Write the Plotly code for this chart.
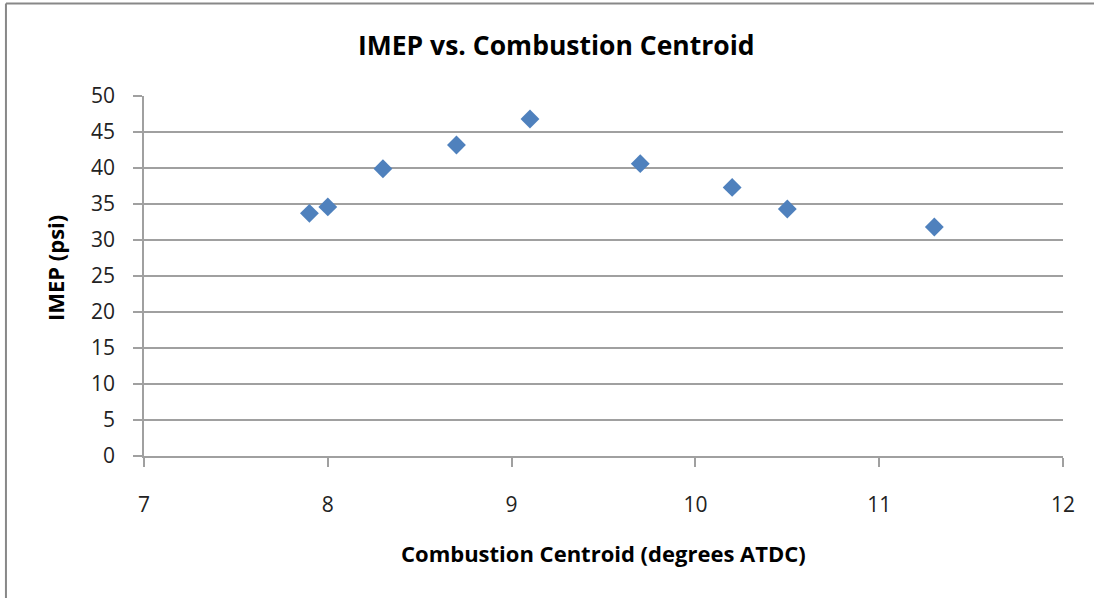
import plotly.graph_objects as go

centroid = [7.9, 8.0, 8.3, 8.7, 9.1, 9.7, 10.2, 10.5, 11.3]
imep = [33.7, 34.6, 39.9, 43.2, 46.8, 40.6, 37.3, 34.3, 31.8]
x_ticks = [7, 8, 9, 10, 11, 12]
y_ticks = [0, 5, 10, 15, 20, 25, 30, 35, 40, 45, 50]

W, H = 1094, 598
L, R, T, B = 144, 31.3, 96, 142.3
PW, PH = W - L - R, H - T - B

def px(x):
    return (x - L) / PW

def py(y):
    return (H - B - y) / PH

FONT = "Open Sans"
GRID = "#a0a0a0"

fig = go.Figure(go.Scatter(
    x=centroid, y=imep, mode="markers",
    marker=dict(symbol="diamond", size=14.5, color="#4f81bd", line=dict(width=0)),
    showlegend=False,
))

fig.update_layout(
    width=W, height=H,
    margin=dict(l=L, r=R, t=T, b=B),
    paper_bgcolor="white", plot_bgcolor="white",
    font=dict(family=FONT, color="#222222", size=21),
    xaxis=dict(range=[7, 12], tickvals=x_ticks, showgrid=False, zeroline=False,
               showline=True, linecolor=GRID, linewidth=1.5,
               ticks="outside", ticklen=9, tickcolor=GRID, tickwidth=1.5,
               tickfont=dict(size=21), ticklabelstandoff=20),
    yaxis=dict(range=[0, 50], tickvals=y_ticks, showgrid=True, gridcolor=GRID, gridwidth=1.5,
               zeroline=False, showline=True, linecolor=GRID, linewidth=1.5,
               ticks="outside", ticklen=9, tickcolor=GRID, tickwidth=1.5,
               tickfont=dict(size=21), ticklabelstandoff=14),
    annotations=[
        dict(text="<b>IMEP vs. Combustion Centroid</b>", xref="paper", yref="paper",
             x=px(556), y=py(45), showarrow=False, font=dict(size=26.5, color="black"),
             xanchor="center", yanchor="middle"),
        dict(text="<b>Combustion Centroid (degrees ATDC)</b>", xref="paper", yref="paper",
             x=px(603), y=py(553), showarrow=False, font=dict(size=22, color="black"),
             xanchor="center", yanchor="middle"),
        dict(text="<b>IMEP (psi)</b>", xref="paper", yref="paper",
             x=px(55), y=py(268), showarrow=False, font=dict(size=22, color="black"),
             textangle=-90, xanchor="center", yanchor="middle"),
    ],
    shapes=[
        dict(type="line", xref="paper", yref="paper", x0=px(6), x1=px(1094), y0=py(3.5), y1=py(3.5),
             line=dict(color="#888888", width=2)),
        dict(type="line", xref="paper", yref="paper", x0=px(6), x1=px(6), y0=py(3.5), y1=py(598),
             line=dict(color="#888888", width=2)),
    ],
)

fig.write_html("out.html")
